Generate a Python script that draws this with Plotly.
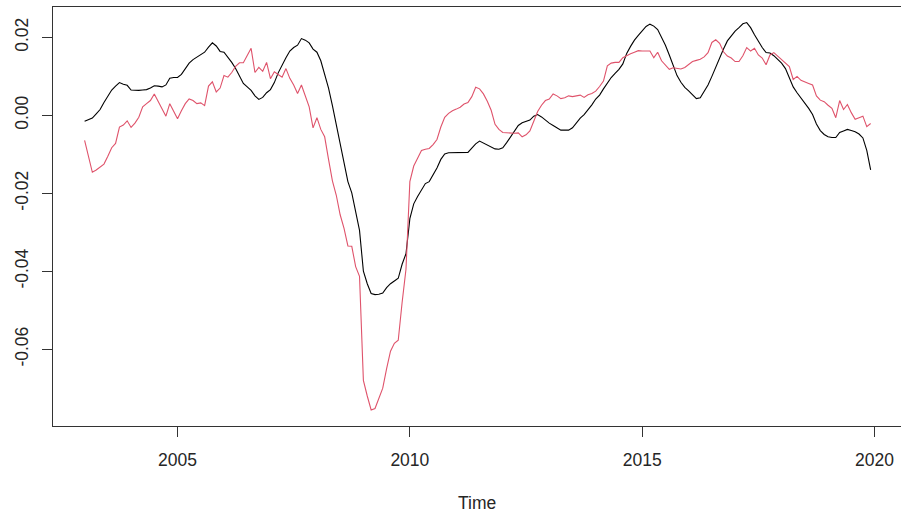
import plotly.graph_objects as go

start_year = 2003
freq = 12

black_series = [
    -1.5, -1.2, -0.7, 0.4, 1.5, 3.3, 4.8, 6.5, 7.5, 8.4, 8.0, 7.7,
    6.5, 6.4, 6.4, 6.5, 6.6, 7.0, 7.6, 7.5, 7.3, 7.8, 9.5, 9.7,
    9.7, 10.5, 12.0, 13.4, 14.3, 14.9, 15.4, 16.2, 17.5, 18.6, 17.8, 16.4,
    16.2, 15.0, 13.6, 12.0, 10.2, 8.2, 7.3, 6.4, 5.0, 4.1, 4.6, 5.8,
    6.6, 8.4, 10.9, 13.0, 14.8, 16.5, 17.4, 18.0, 19.7, 19.3, 18.6, 17.0,
    16.2, 14.0, 10.5, 7.0, 2.5, -2.5, -7.0, -12.5, -17.0, -19.9, -24.5, -29.5,
    -40.0, -43.2, -45.7, -46.0, -45.9, -45.6, -44.2, -43.2, -42.5, -41.8, -38.2, -35.5,
    -26.5, -22.7, -20.8, -19.2, -17.5, -17.0, -15.3, -13.5, -11.3, -9.9, -9.6, -9.6,
    -9.6, -9.6, -9.6, -9.5, -8.4, -7.3, -6.6, -7.1, -7.7, -8.3, -8.6, -8.7,
    -8.3, -7.0, -5.5, -3.8, -2.6, -1.9, -1.5, -1.2, -0.2, 0.2, -0.4, -1.3,
    -2.0, -2.6, -3.3, -3.8, -3.8, -3.8, -3.2, -1.8, -0.7, 0.2, 1.4, 2.7,
    4.2, 5.2, 6.8, 8.3, 9.7, 10.8, 11.8, 13.2, 15.9, 17.7, 19.3, 20.5,
    21.6, 22.8, 23.4, 22.9, 22.0, 20.0, 18.0, 15.5, 12.8, 10.2, 8.5, 7.2,
    6.3, 5.3, 4.3, 4.5, 6.0, 7.8, 10.0, 12.5, 14.8, 17.0, 19.1, 20.4,
    21.6, 22.5, 23.5, 23.8, 22.5, 20.7, 19.0, 17.4, 16.1, 16.0, 15.3, 14.3,
    13.4, 12.0, 9.8, 7.3, 5.8, 4.5, 3.2, 1.8, 0.2, -2.2, -3.9, -4.9,
    -5.5, -5.7, -5.7, -4.4, -4.0, -3.6, -3.9, -4.2, -4.8, -5.8, -9.0, -14.0,
]

red_series = [
    -6.4, -10.5, -14.6, -14.0, -13.2, -12.5, -10.5, -8.3, -7.2, -3.0, -2.5, -1.4,
    -3.1, -2.0, -0.5, 2.2, 3.0, 3.8, 5.5, 3.5, 1.5, -0.2, 3.0, 1.2,
    -0.9, 1.2, 3.0, 4.2, 3.8, 3.0, 3.2, 2.5, 7.5, 8.6, 6.0, 7.0,
    10.2, 9.8, 11.0, 12.6, 13.5, 13.5, 15.3, 17.2, 11.0, 12.3, 11.3, 13.6,
    9.4, 11.2, 10.5, 9.8, 12.0, 9.5, 7.8, 5.6, 7.8, 4.8, 2.2, -3.2,
    -0.6, -3.6, -5.5, -11.3, -16.8, -20.5, -25.5, -29.0, -33.5, -33.6, -38.8, -41.3,
    -68.0, -72.0, -75.6, -75.2, -72.5, -70.0, -65.0, -60.5, -58.5, -57.7, -48.0, -39.5,
    -17.0, -13.0, -11.0, -9.0, -8.7, -8.5, -7.5, -6.2, -3.0, -0.5, 0.5, 1.2,
    1.6, 2.1, 2.9, 3.3, 4.8, 7.2, 6.8, 5.5, 3.6, 1.3, -2.3, -3.6,
    -4.4, -4.5, -4.5, -4.6, -4.5, -5.5, -5.0, -4.0, -1.5, 1.0, 2.6, 3.8,
    4.2, 5.5, 5.0, 4.3, 4.5, 5.0, 4.8, 5.0, 5.2, 4.6, 5.3, 5.6,
    6.2, 7.4, 8.8, 12.7, 13.4, 13.6, 13.6, 14.8, 15.4, 15.8, 16.2, 16.6,
    16.5, 16.5, 16.5, 14.8, 16.2, 14.0, 13.0, 11.8, 12.2, 12.0, 11.9, 12.3,
    13.0, 13.8, 14.1, 14.4, 15.0, 16.1, 18.7, 19.4, 18.5, 16.3, 15.2, 14.7,
    13.8, 13.8, 15.3, 17.4, 16.5, 17.2, 15.5, 14.7, 13.0, 15.5, 16.1, 15.2,
    14.5, 13.6, 12.5, 9.2, 10.0, 9.0, 8.5, 8.2, 7.8, 5.0, 3.9, 3.5,
    2.6, 1.8, -0.6, 3.8, 1.5, 2.8, 0.7, -1.0, -0.6, -0.2, -2.9, -2.1,
]

x_tick_vals = [2005, 2010, 2015, 2020]
x_tick_text = ["2005", "2010", "2015", "2020"]
y_tick_vals = [-0.06, -0.04, -0.02, 0.00, 0.02]
y_tick_text = ["-0.06", "-0.04", "-0.02", "0.00", "0.02"]

times = [start_year + i / freq for i in range(len(black_series))]
black_vals = [v / 1000 for v in black_series]
red_vals = [v / 1000 for v in red_series]

fig = go.Figure()
fig.add_trace(go.Scatter(x=times, y=black_vals, mode="lines",
                         line=dict(color="#000000", width=1.1), showlegend=False))
fig.add_trace(go.Scatter(x=times, y=red_vals, mode="lines",
                         line=dict(color="#DF536B", width=1.1), showlegend=False))

font = dict(family="Liberation Sans, Arial, sans-serif", size=17.5, color="#262626")

fig.update_layout(
    width=901, height=519,
    margin=dict(l=53, r=0, t=7, b=93),
    paper_bgcolor="white", plot_bgcolor="white",
    font=font,
    xaxis=dict(
        range=[2002.32, 2020.57], tickmode="array",
        tickvals=x_tick_vals, ticktext=x_tick_text,
        showgrid=False, zeroline=False,
        showline=True, linecolor="#333333", linewidth=1, mirror=True,
        ticks="outside", ticklen=10, tickcolor="#333333",
        ticklabelstandoff=8,
    ),
    yaxis=dict(
        range=[-0.0797, 0.0278], tickmode="array",
        tickvals=y_tick_vals, ticktext=y_tick_text,
        showgrid=False, zeroline=False,
        showline=True, linecolor="#333333", linewidth=1,
        ticks="outside", ticklen=10, tickcolor="#333333",
        tickangle=-90, ticklabelstandoff=7,
    ),
    annotations=[dict(text="Time", xref="paper", yref="paper", x=0.5, y=0,
                      yshift=-77, showarrow=False, yanchor="middle",
                      font=font)],
)

fig.write_html("out.html")
